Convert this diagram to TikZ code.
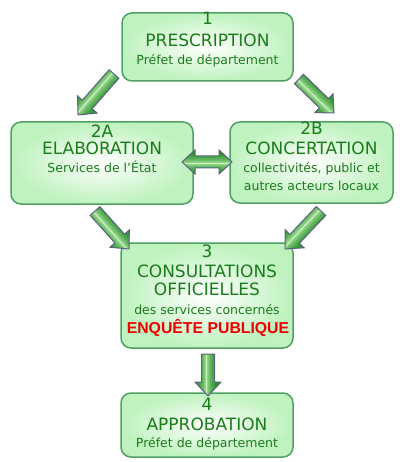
\documentclass[tikz,border=0pt]{standalone}
\usepackage{fontspec}
\setmainfont{DejaVu Sans}
\newfontfamily\arialfont{Liberation Sans}
\usetikzlibrary{calc}
\definecolor{boxfill}{RGB}{190,242,190}
\definecolor{boxline}{RGB}{80,160,100}
\definecolor{txtgreen}{RGB}{25,125,25}
\definecolor{arrdark}{RGB}{40,145,40}
\definecolor{arrlight}{RGB}{200,245,185}
\definecolor{arrline}{RGB}{90,100,130}
\definecolor{redtxt}{RGB}{240,0,0}
\tikzset{
  box/.style={draw=boxline, line width=1.5pt, rounded corners=10pt, inner color=white, outer color=boxfill},
  ttl/.style={text=txtgreen, font=\fontsize{17}{17}\selectfont, anchor=base, inner sep=0pt},
  sub/.style={text=txtgreen, font=\fontsize{12.5}{12.5}\selectfont, anchor=base, inner sep=0pt},
  enq/.style={text=redtxt, font=\arialfont\bfseries\fontsize{15.8}{15.8}\selectfont, anchor=base, inner sep=0pt},
  arrowline/.style={draw=arrline, line width=1pt, line join=miter},
}
% fill current clip with stripes across the width (local y from -13 to 13)
\newcommand\stripes{%
  \foreach \k in {-13,...,12}{%
    \pgfmathsetmacro\pp{min(100,100*sqrt(abs(\k+0.5+1.5)/10))}%
    \fill[arrdark!\pp!arrlight] (-2,\k) rectangle (\balen+2,\k+1.1);
  }}
\newcommand\getarrow[2]{%
  \path let \p1=(#1), \p2=(#2), \n1={atan2(\y2-\y1,\x2-\x1)}, \n2={veclen(\x2-\x1,\y2-\y1)} in
    \pgfextra{\xdef\baang{\n1}\xdef\balen{\n2}\xdef\bax{\x1}\xdef\bay{\y1}};}
\newcommand\blockarrow[2]{%
  \getarrow{#1}{#2}%
  \begin{scope}[shift={(\bax,\bay)}, rotate=\baang, x=1pt, y=1pt]
    \begin{scope}
      \clip (0,-6.5) -- (\balen-14,-6.5) -- (\balen-14,-13) -- (\balen,0) -- (\balen-14,13) -- (\balen-14,6.5) -- (0,6.5) -- cycle;
      \stripes
    \end{scope}
    \path[arrowline] (0,-6.5) -- (\balen-14,-6.5) -- (\balen-14,-13) -- (\balen,0) -- (\balen-14,13) -- (\balen-14,6.5) -- (0,6.5) -- cycle;
  \end{scope}}
\newcommand\doublearrow[2]{%
  \getarrow{#1}{#2}%
  \begin{scope}[shift={(\bax,\bay)}, rotate=\baang, x=1pt, y=1pt]
    \begin{scope}
      \clip (0,0) -- (13,-12) -- (13,-6) -- (\balen-13,-6) -- (\balen-13,-12) -- (\balen,0) -- (\balen-13,12) -- (\balen-13,6) -- (13,6) -- (13,12) -- cycle;
      \stripes
    \end{scope}
    \path[arrowline] (0,0) -- (13,-12) -- (13,-6) -- (\balen-13,-6) -- (\balen-13,-12) -- (\balen,0) -- (\balen-13,12) -- (\balen-13,6) -- (13,6) -- (13,12) -- cycle;
  \end{scope}}
\begin{document}
\begin{tikzpicture}[x=1pt, y=-1pt]
\useasboundingbox (0,0) rectangle (399,462);
% boxes
\node[box, minimum width=171pt, minimum height=68pt] (p1) at (207.5,47) {};
\node[box, minimum width=182pt, minimum height=82pt] (p2a) at (102,163) {};
\node[box, minimum width=163pt, minimum height=81pt] (p2b) at (311.5,162.5) {};
\node[box, minimum width=172pt, minimum height=105pt] (p3) at (207,295.5) {};
\node[box, minimum width=172pt, minimum height=64pt] (p4) at (207,425) {};
% texts box 1
\node[ttl] (t1a) at (207.5,25) {1};
\node[ttl] (t1b) at (207.5,47) {PRESCRIPTION};
\node[sub] (t1c) at (207.5,65) {Préfet de département};
% box 2A
\node[ttl] (t2a) at (102,138) {2A};
\node[ttl] (t2b) at (102,155) {ELABORATION};
\node[sub] (t2c) at (102,173) {Services de l’État};
% box 2B
\node[ttl] (t3a) at (311.5,135) {2B};
\node[ttl] (t3b) at (311.5,155) {CONCERTATION};
\node[sub] (t3c) at (311.5,173) {collectivités, public et};
\node[sub] (t3d) at (311.5,190) {autres acteurs locaux};
% box 3
\node[ttl] (t4a) at (207,257) {3};
\node[ttl] (t4b) at (207,277) {CONSULTATIONS};
\node[ttl] (t4c) at (207,295) {OFFICIELLES};
\node[sub] (t4d) at (207,314) {des services concernés};
\node[enq] (t4e) at (208,333) {ENQUÊTE PUBLIQUE};
% box 4
\node[ttl] (t5a) at (207,410) {4};
\node[ttl] (t5b) at (207,430) {APPROBATION};
\node[sub] (t5c) at (207,447) {Préfet de département};
% arrow end points
\coordinate (a1s) at (114,74);  \coordinate (a1e) at (78,115);
\coordinate (a2s) at (299,79);  \coordinate (a2e) at (334,113);
\coordinate (a3s) at (95,211);  \coordinate (a3e) at (129,249);
\coordinate (a4s) at (321,211); \coordinate (a4e) at (285,249);
\coordinate (a5s) at (208,354); \coordinate (a5e) at (208,396);
\coordinate (d1) at (182,162);  \coordinate (d2) at (232,162);
\blockarrow{a1s}{a1e}
\blockarrow{a2s}{a2e}
\blockarrow{a3s}{a3e}
\blockarrow{a4s}{a4e}
\blockarrow{a5s}{a5e}
\doublearrow{d1}{d2}
\end{tikzpicture}
\end{document}
